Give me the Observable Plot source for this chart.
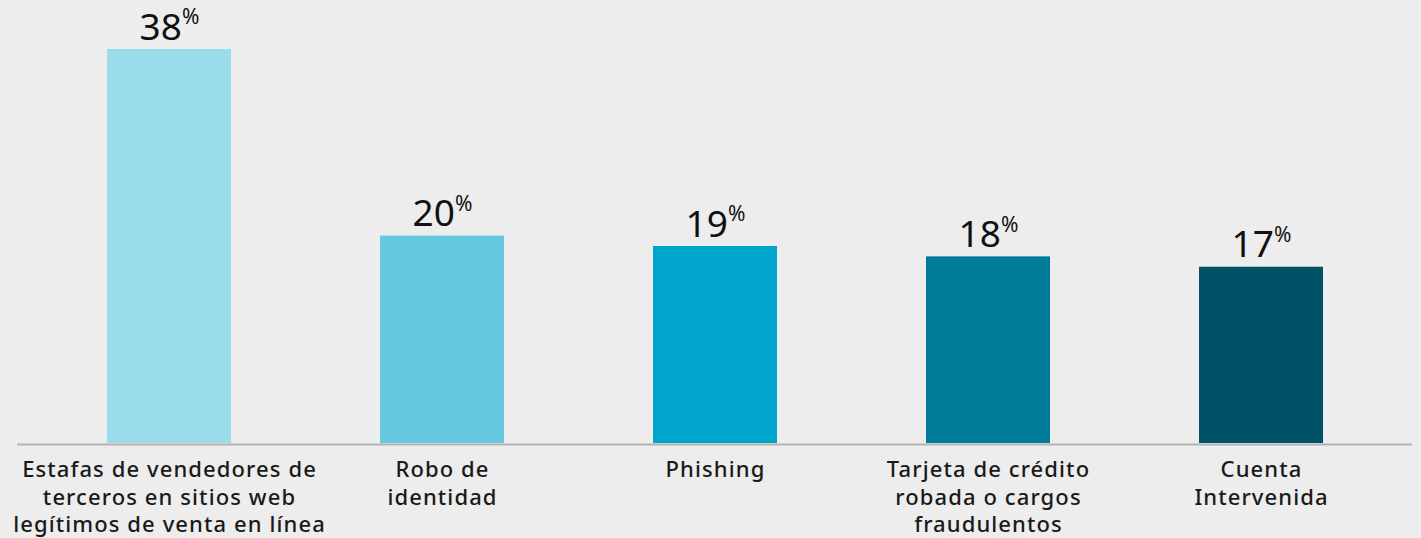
<!DOCTYPE html>
<html>
<head>
<meta charset="utf-8">
<script src="https://cdn.jsdelivr.net/npm/d3@7"></script>
<script src="https://cdn.jsdelivr.net/npm/@observablehq/plot@0.6"></script>
<style>
  html, body { margin: 0; padding: 0; background: #ededed; }
  #chart svg { display: block; background: #ededed; }
</style>
</head>
<body>
<div id="chart"></div>
<script>
const categories = [
  "Estafas de vendedores de\nterceros en sitios web\nlegítimos de venta en línea",
  "Robo de\nidentidad",
  "Phishing",
  "Tarjeta de crédito\nrobada o cargos\nfraudulentos",
  "Cuenta\nIntervenida"
];
const values = [38, 20, 19, 18, 17];
const colors = ["#9adcea", "#65cadf", "#00a5cb", "#007c98", "#005366"];

const data = categories.map((c, i) => ({cat: c, value: values[i], color: colors[i]}));

const chart = Plot.plot({
  width: 1421,
  height: 538,
  marginLeft: 17,
  marginRight: 9,
  marginTop: 49,
  marginBottom: 95,
  style: {background: "#ededed", fontFamily: "'Noto Sans', sans-serif", color: "#1a1a1a"},
  x: {domain: categories, paddingInner: 0.547, paddingOuter: 0.3215, label: null},
  y: {domain: [0, 38], axis: null},
  marks: [
    Plot.barY(data, {x: "cat", y: "value", fill: "color"}),
    Plot.ruleY([0], {stroke: "#b3b3b3", strokeWidth: 2, dy: 1}),
    Plot.text(data, {
      x: "cat", y: "value", text: d => d.value + "%",
      lineAnchor: "bottom", dy: -10, fontSize: 37, fill: "#111",
      className: "vlabel"
    }),
    Plot.axisX({
      tickSize: 0, tickPadding: 14, fontSize: 22, lineHeight: 1.25,
      fontWeight: 500, fill: "#1a1a1a", label: null
    })
  ]
});
document.getElementById("chart").appendChild(chart);

// wider tracking on the category labels
d3.select(chart).selectAll("[aria-label='x-axis tick label'] text")
  .style("letter-spacing", "1.1px");

// render the percent sign as a superscript
d3.select(chart).selectAll(".vlabel text").each(function() {
  const t = d3.select(this);
  const s = t.text();
  const num = s.replace("%", "");
  t.text(null);
  t.append("tspan").text(num);
  t.append("tspan").attr("font-size", 21).attr("dy", "-0.72em").attr("dx", 0).text("%");
});
</script>
</body>
</html>
